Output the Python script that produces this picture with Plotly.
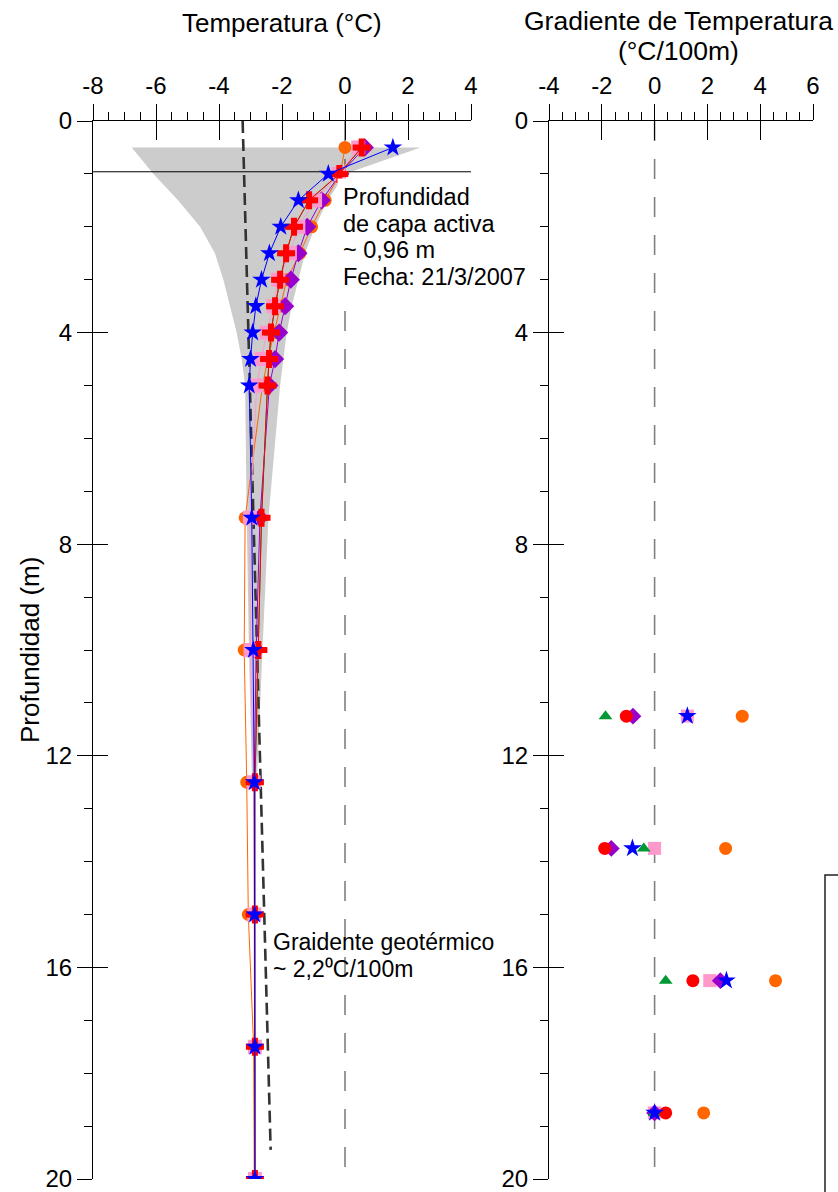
import plotly.graph_objects as go

# ---------------- data ----------------
# Temperature profiles (°C) at each sensor depth (m)
depths = [0.5, 1, 1.5, 2, 2.5, 3, 3.5, 4, 4.5, 5, 7.5, 10, 12.5, 15, 17.5, 20]

temp_orange = [0.0, -0.15, -0.63, -1.06, -1.43, -1.85, -2.05, -2.25, -2.45, -2.62,
               -3.17, -3.2, -3.12, -3.07, -2.9, -2.88]
temp_pink = [0.42, -0.2, -0.95, -1.48, -1.75, -2.12, -2.27, -2.49, -2.65, -2.8,
             -3.02, -3.0, -2.9, -2.88, -2.86, -2.86]
temp_purple = [0.63, -0.15, -0.74, -1.2, -1.48, -1.72, -1.9, -2.09, -2.22, -2.4,
               -2.7, -2.82, -2.88, -2.88, -2.86, -2.86]
temp_green = [0.53, -0.18, -1.14, -1.62, -1.87, -2.06, -2.22, -2.35, -2.41, -2.46,
              -2.65, -2.75, -2.86, -2.86, -2.86, -2.86]
temp_red = [0.53, -0.18, -1.14, -1.62, -1.87, -2.06, -2.22, -2.35, -2.41, -2.46,
            -2.65, -2.75, -2.86, -2.86, -2.86, -2.86]
temp_blue = [1.52, -0.53, -1.48, -2.04, -2.4, -2.65, -2.83, -2.93, -3.0, -3.04,
             -2.96, -2.91, -2.88, -2.87, -2.86, -2.86]

# Range of observed temperatures (shaded envelope)
env_depths = [0.5, 1, 1.5, 2, 2.5, 3, 3.5, 4, 4.5, 5, 7.5, 10, 12.5]
env_min = [-6.77, -6.08, -5.3, -4.6, -4.13, -3.86, -3.65, -3.44, -3.28, -3.17,
           -3.12, -3.05, -2.95]
env_max = [2.4, 0.0, -0.55, -0.95, -1.27, -1.49, -1.69, -1.85, -1.96, -2.06,
           -2.43, -2.62, -2.8]

# Geothermal gradient trend line
geo_temp = [-3.25, -2.36]
geo_depth = [0.0, 19.45]

active_layer_depth = 0.96

# Temperature gradients (°C/100m) between consecutive deep sensors
grad_depths = [11.25, 13.75, 16.25, 18.75]
grad_orange = [3.32, 2.69, 4.58, 1.86]
grad_pink = [1.24, 0.0, 2.09, 0.0]
grad_purple = [-0.82, -1.64, 2.49, 0.0]
grad_green = [-1.86, -0.41, 0.42, 0.0]
grad_red = [-1.07, -1.89, 1.45, 0.42]
grad_blue = [1.24, -0.84, 2.72, 0.0]

temp_ticks = [-8, -6, -4, -2, 0, 2, 4]
temp_ticktext = ["-8", "-6", "-4", "-2", "0", "2", "4"]
grad_ticks = [-4, -2, 0, 2, 4, 6]
grad_ticktext = ["-4", "-2", "0", "2", "4", "6"]
depth_ticks = [0, 4, 8, 12, 16, 20]
depth_ticktext = ["0", "4", "8", "12", "16", "20"]

# ---------------- styling ----------------
FONT = "Liberation Sans, Arial, sans-serif"
C_ORANGE = "#FF6600"
C_PINK = "#FF99CC"
C_PURPLE = "#9900CC"
C_GREEN = "#009933"
C_RED = "#FF0000"
C_BLUE = "#0000FF"

fig = go.Figure()

# shaded envelope
fig.add_trace(go.Scatter(
    x=env_min + env_max[::-1], y=env_depths + env_depths[::-1],
    fill="toself", fillcolor="#CCCCCC", line=dict(width=0),
    mode="lines", xaxis="x", yaxis="y", hoverinfo="skip", showlegend=False))

# 0 °C reference lines
fig.add_trace(go.Scatter(x=[0, 0], y=[0, 20], mode="lines",
                         line=dict(color="#333333", width=1, dash="20px,18px"),
                         xaxis="x", yaxis="y", showlegend=False, hoverinfo="skip"))
fig.add_trace(go.Scatter(x=[0, 0], y=[0, 20], mode="lines",
                         line=dict(color="#808080", width=1.6, dash="20px,18px"),
                         xaxis="x2", yaxis="y2", showlegend=False, hoverinfo="skip"))

# active layer depth
fig.add_trace(go.Scatter(x=[temp_ticks[0], temp_ticks[-1]],
                         y=[active_layer_depth, active_layer_depth], mode="lines",
                         line=dict(color="black", width=1),
                         xaxis="x", yaxis="y", showlegend=False, hoverinfo="skip"))

# geothermal gradient
fig.add_trace(go.Scatter(x=geo_temp, y=geo_depth, mode="lines",
                         line=dict(color="#333333", width=2.6, dash="12px,6px"),
                         xaxis="x", yaxis="y", showlegend=False, hoverinfo="skip"))

# temperature profiles
profiles = [
    (temp_orange, C_ORANGE, "circle", 13),
    (temp_purple, C_PURPLE, "diamond", 14),
    (temp_pink, C_PINK, "square", 14),
    (temp_green, C_GREEN, "triangle-up", 12),
    (temp_red, C_RED, "cross", 15),
    (temp_blue, C_BLUE, "star", 14),
]
for vals, col, sym, sz in profiles:
    fig.add_trace(go.Scatter(
        x=vals, y=depths, mode="lines+markers",
        line=dict(color=col, width=1),
        marker=dict(symbol=sym, size=sz, color=col, line=dict(width=0)),
        xaxis="x", yaxis="y", showlegend=False))

# gradients
gradients = [
    (grad_orange, C_ORANGE, "circle", 13),
    (grad_pink, C_PINK, "square", 13),
    (grad_purple, C_PURPLE, "diamond", 13),
    (grad_green, C_GREEN, "triangle-up", 12),
    (grad_red, C_RED, "circle", 13),
    (grad_blue, C_BLUE, "star", 14),
]
for vals, col, sym, sz in gradients:
    fig.add_trace(go.Scatter(
        x=vals, y=grad_depths, mode="markers",
        marker=dict(symbol=sym, size=sz, color=col, line=dict(width=0)),
        xaxis="x2", yaxis="y2", showlegend=False))

# empty traces carrying the overlay axes (inner half of the major ticks)
for xa, ya in [("x3", "y"), ("x", "y3"), ("x4", "y2"), ("x2", "y4")]:
    fig.add_trace(go.Scatter(x=[None], y=[None], mode="markers",
                             xaxis=xa, yaxis=ya, showlegend=False, hoverinfo="skip"))

TICKFONT = dict(family=FONT, size=24, color="black")


def main_x(domain, rng, ticks, ticktext, anchor):
    return dict(domain=domain, range=rng, side="top", anchor=anchor,
                tickmode="array", tickvals=ticks, ticktext=ticktext,
                ticks="outside", ticklen=16, automargin=False,
                tickwidth=1, tickcolor="black", showline=True, linecolor="black",
                linewidth=1, showgrid=False, zeroline=False, tickfont=TICKFONT,
                ticklabeloverflow="allow",
                minor=dict(dtick=0.5, tick0=ticks[0], ticks="outside", ticklen=8,
                           tickwidth=1, tickcolor="black", showgrid=False))


def main_y(anchor):
    return dict(domain=[0, 1], range=[20, 0], anchor=anchor, side="left",
                tickmode="array", tickvals=depth_ticks, ticktext=depth_ticktext,
                ticks="outside", ticklen=15, automargin=False,
                tickwidth=1, tickcolor="black", showline=True, linecolor="black",
                linewidth=1, showgrid=False, zeroline=False, tickfont=TICKFONT,
                ticklabeloverflow="allow",
                minor=dict(dtick=1, tick0=0, ticks="outside", ticklen=8,
                           tickwidth=1, tickcolor="black", showgrid=False))


def inner_x(over, rng, ticks, anchor):
    return dict(overlaying=over, range=rng, side="top", anchor=anchor,
                tickmode="array", tickvals=ticks, ticks="inside", ticklen=19,
                tickwidth=1, tickcolor="black", showticklabels=False,
                automargin=False,
                showline=False, showgrid=False, zeroline=False)


def inner_y(over, anchor):
    return dict(overlaying=over, range=[20, 0], side="left", anchor=anchor,
                tickmode="array", tickvals=depth_ticks, ticks="inside", ticklen=15,
                tickwidth=1, tickcolor="black", showticklabels=False,
                automargin=False,
                showline=False, showgrid=False, zeroline=False)


L, R, T, B = 93, 25, 121, 13
W, H = 838, 1192
pw, ph = W - L - R, H - T - B


def px_x(p):
    return (p - L) / pw


def px_y(p):
    return (H - B - p) / ph


dom1 = [0, px_x(471)]
dom2 = [px_x(549), 1.0]

fig.update_layout(
    width=W, height=H,
    margin=dict(l=L, r=R, t=T, b=B, autoexpand=False),
    paper_bgcolor="white", plot_bgcolor="rgba(0,0,0,0)",
    font=dict(family=FONT, color="black"),
    xaxis=main_x(dom1, [-8, 4], temp_ticks, temp_ticktext, "y"),
    yaxis=main_y("x"),
    xaxis2=main_x(dom2, [-4, 6], grad_ticks, grad_ticktext, "y2"),
    yaxis2=main_y("x2"),
    xaxis3=inner_x("x", [-8, 4], temp_ticks, "y"),
    yaxis3=inner_y("y", "x"),
    xaxis4=inner_x("x2", [-4, 6], grad_ticks, "y2"),
    yaxis4=inner_y("y2", "x2"),
    showlegend=False,
)


def stacked(lines, size):
    # lines drawn at `size` px; line pitch follows the annotation's base font
    return "<br>".join(f"<span style='font-size:{size}px'>{t}</span>" for t in lines)


ann = []
# panel titles
ann.append(dict(text="Temperatura (°C)", xref="paper", yref="paper",
                x=(dom1[0] + dom1[1]) / 2, y=px_y(23), xanchor="center", yanchor="middle",
                showarrow=False, font=dict(size=26)))
ann.append(dict(text=stacked(["Gradiente de Temperatura", "(°C/100m)"], 26.5),
                xref="paper", yref="paper",
                x=px_x(678), y=px_y(36), xanchor="center", yanchor="middle",
                showarrow=False, font=dict(size=23)))
ann.append(dict(text="Profundidad (m)", xref="paper", yref="paper",
                x=px_x(30), y=0.5, xanchor="center", yanchor="middle",
                textangle=-90, showarrow=False, font=dict(size=26)))

# active-layer note
ann.append(dict(text=stacked(["Profundidad", "de capa activa", "~ 0,96 m",
                              "Fecha: 21/3/2007"], 23.5),
                xref="x", yref="y", x=-0.26, y=2.2, align="left",
                xanchor="left", yanchor="middle", showarrow=False,
                bgcolor="white", borderpad=5, font=dict(size=20.5)))

# geothermal gradient note
ann.append(dict(text=stacked(["Graidente geotérmico", "~ 2,2⁰C/100m"], 23),
                xref="x", yref="y", x=-2.35, y=15.78, align="left",
                xanchor="left", yanchor="middle", showarrow=False,
                font=dict(size=21)))

fig.update_layout(annotations=ann)

# legend frame (extends past the right edge)
fig.add_shape(type="rect", xref="paper", yref="paper",
              x0=px_x(825), x1=px_x(900), y0=px_y(875), y1=px_y(1260),
              line=dict(color="#222222", width=1.5), fillcolor="rgba(0,0,0,0)")

fig.write_html("out.html")
